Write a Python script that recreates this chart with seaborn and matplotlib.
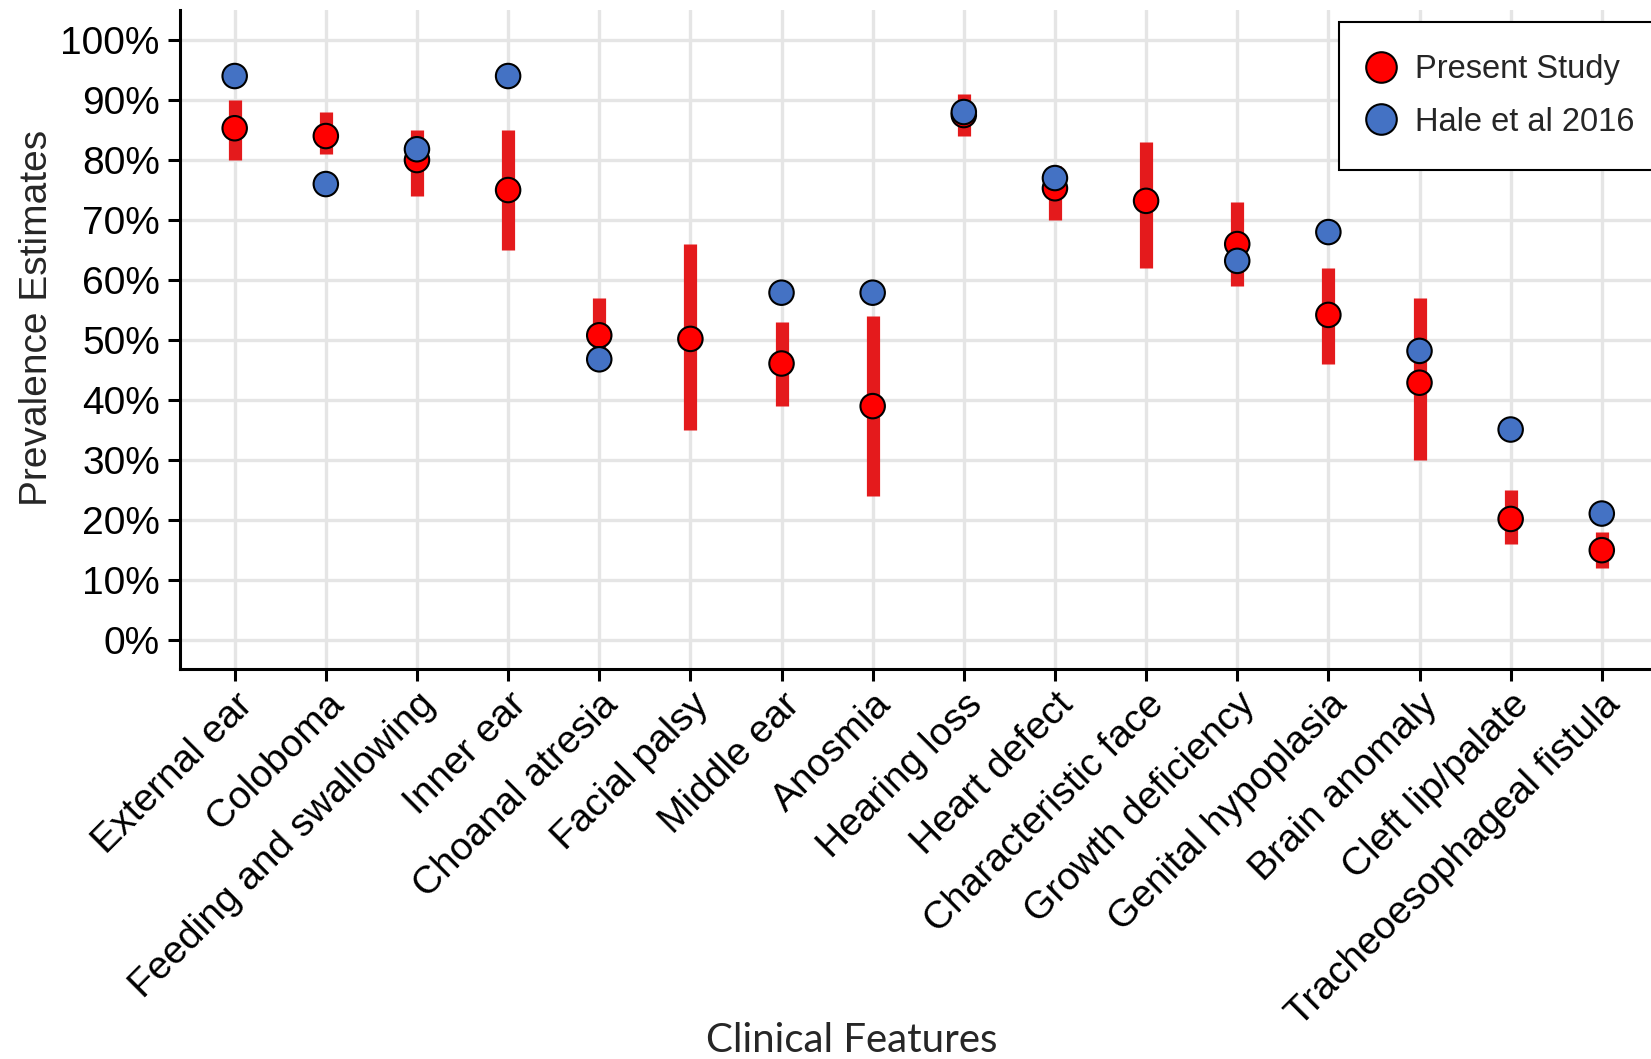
import numpy as np
import pandas as pd
import seaborn as sns
from matplotlib import pyplot as plt

# data (percent)
features = ["External ear", "Coloboma", "Feeding and swallowing", "Inner ear",
            "Choanal atresia", "Facial palsy", "Middle ear", "Anosmia",
            "Hearing loss", "Heart defect", "Characteristic face",
            "Growth deficiency", "Genital hypoplasia", "Brain anomaly",
            "Cleft lip/palate", "Tracheoesophageal fistula"]
present = [85.3, 84, 80, 75, 50.8, 50.2, 46.1, 39, 87.5, 75.3, 73.2, 66, 54.2, 42.9, 20.2, 15]
ci_low = [80, 81, 74, 65, 45, 35, 39, 24, 84, 70, 62, 59, 46, 30, 16, 12]
ci_high = [90, 88, 85, 85, 57, 66, 53, 54, 91, 79, 83, 73, 62, 57, 25, 18]
hale = [94, 76, 81.8, 94, 46.8, np.nan, 57.9, 57.9, 88, 77, np.nan, 63.2, 68, 48.2, 35.1, 21.1]

sns.set_style("white")
plt.rcParams['font.family'] = ['Liberation Sans', 'DejaVu Sans']

df = pd.DataFrame({
    'Feature': features * 2,
    'Prevalence': present + hale,
    'Source': ['Present Study'] * len(features) + ['Hale et al 2016'] * len(features),
})
df = df.dropna()

fig = plt.figure(figsize=(16.51, 10.59), dpi=100)
ax = fig.add_axes([180 / 1651, 1 - 669 / 1059, 1 - 180 / 1651, (669 - 10) / 1059])

# confidence intervals
ax.vlines(features, ci_low, ci_high, color='#E41A1C', linewidth=9.5, zorder=2)

sns.scatterplot(data=df, x='Feature', y='Prevalence', hue='Source',
                palette={'Present Study': '#FF0000', 'Hale et al 2016': '#4472C4'},
                s=310, edgecolor='black', linewidth=1.5, zorder=3, ax=ax)

ax.set_xlim(-0.6, 15.54)
ax.set_ylim(-4.8, 105)
ax.set_yticks(range(0, 101, 10))
ax.set_yticklabels([f'{v}%' for v in range(0, 101, 10)])
ax.grid(True, color='#E5E5E5', linewidth=2.4, zorder=0)
ax.set_axisbelow(True)

for side in ['top', 'right']:
    ax.spines[side].set_visible(False)
for side in ['left', 'bottom']:
    ax.spines[side].set_linewidth(2.2)
    ax.spines[side].set_color('black')
ax.tick_params(axis='both', direction='out', length=8.5, width=2.2, color='black',
               labelsize=28, labelcolor='black', left=True, bottom=True)
ax.tick_params(axis='y', pad=6)
ax.tick_params(axis='x', pad=4)
plt.setp(ax.get_xticklabels(), rotation=45, ha='right', va='top', rotation_mode='anchor')

ax.set_ylabel('Prevalence Estimates', fontsize=28)
ax.yaxis.set_label_coords(-0.085, 0.533)
ax.set_xlabel('Clinical Features', fontsize=29, family=['Lato', 'DejaVu Sans'])
ax.xaxis.set_label_coords(0.457, -0.535)

handles, labels = ax.get_legend_handles_labels()
leg = ax.legend(handles, labels, loc='upper left',
                bbox_to_anchor=(1339 / 1651, 1 - 21.7 / 1059), bbox_transform=fig.transFigure,
                borderaxespad=0, fontsize=23.5, markerscale=1.25, frameon=True, fancybox=False,
                edgecolor='black', handletextpad=0.75, labelspacing=0.65, borderpad=1.0,
                handlelength=0.58)
leg.get_frame().set_linewidth(1.5)
leg.get_frame().set_alpha(1)

plt.savefig('out.png', dpi=100)
